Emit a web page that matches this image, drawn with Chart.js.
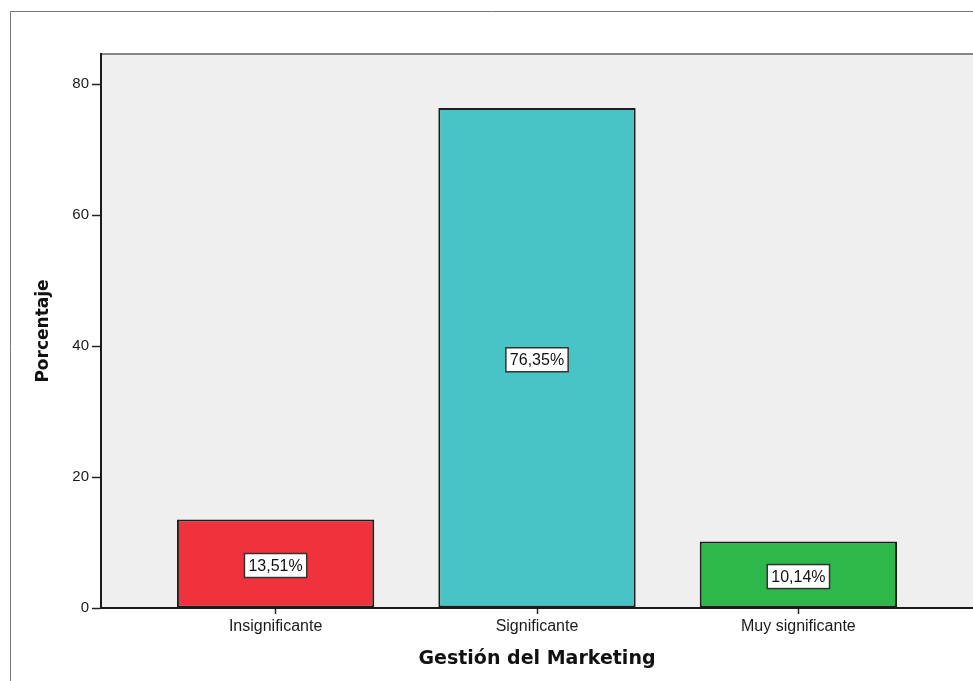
<!DOCTYPE html>
<html>
<head>
<meta charset="utf-8">
<script src="https://cdn.jsdelivr.net/npm/chart.js@4"></script>
<style>
  html, body { margin: 0; padding: 0; background: #fff; overflow: hidden; }
  #wrap { width: 973px; height: 681px; }
</style>
</head>
<body>
<div id="wrap"><canvas id="chart" width="973" height="681"></canvas></div>
<script>
// Data
const categories = ['Insignificante', 'Significante', 'Muy significante'];
const percentages = [13.51, 76.35, 10.14];
const barColors = ['#f0323c', '#48c3c6', '#2eb84b'];
const yTicks = [0, 20, 40, 60, 80];

// Grey plot background, top frame line and outer frame
const frame = {
    id: 'frame',
    beforeDraw(chart) {
        const { ctx, chartArea: a } = chart;
        ctx.save();
        ctx.fillStyle = '#efefef';
        ctx.fillRect(a.left, a.top, a.right - a.left, a.bottom - a.top);
        ctx.strokeStyle = '#858585';
        ctx.lineWidth = 2;
        ctx.beginPath();
        ctx.moveTo(a.left, a.top);
        ctx.lineTo(a.right, a.top);
        ctx.stroke();
        ctx.strokeStyle = '#777';
        ctx.lineWidth = 1;
        ctx.beginPath();
        ctx.moveTo(10.5, chart.height);
        ctx.lineTo(10.5, 11.5);
        ctx.lineTo(chart.width, 11.5);
        ctx.stroke();
        ctx.restore();
    }
};

// Percent labels in white boxes at the middle of each bar
const boxLabels = {
    id: 'boxLabels',
    afterDatasetsDraw(chart) {
        const { ctx } = chart;
        const meta = chart.getDatasetMeta(0);
        ctx.save();
        ctx.font = '16px "Liberation Sans", Arial, sans-serif';
        ctx.textAlign = 'center';
        ctx.textBaseline = 'middle';
        meta.data.forEach((bar, i) => {
            const text = percentages[i].toFixed(2).replace('.', ',') + '%';
            const cy = (bar.y + bar.base) / 2 + 2;
            const w = ctx.measureText(text).width + 8;
            const h = 24;
            ctx.fillStyle = '#fff';
            ctx.fillRect(bar.x - w / 2, cy - h / 2, w, h);
            ctx.strokeStyle = '#333';
            ctx.lineWidth = 1.5;
            ctx.strokeRect(bar.x - w / 2, cy - h / 2, w, h);
            ctx.fillStyle = '#111';
            ctx.fillText(text, bar.x, cy + 1);
        });
        ctx.restore();
    }
};

new Chart(document.getElementById('chart').getContext('2d'), {
    type: 'bar',
    data: {
        datasets: [{
            data: categories.map((c, i) => ({ x: i, y: percentages[i] })),
            backgroundColor: barColors,
            borderColor: '#1e1e1e',
            borderWidth: 2,
            borderSkipped: false,
            barPercentage: 0.755,
            categoryPercentage: 1
        }]
    },
    options: {
        responsive: false,
        animation: false,
        layout: { padding: { top: 54, left: 0, right: 0, bottom: 0 } },
        plugins: { legend: { display: false }, tooltip: { enabled: false } },
        scales: {
            x: {
                type: 'linear',
                offset: false,
                min: -0.668,
                max: 2.668,
                afterBuildTicks: (s) => { s.ticks = categories.map((c, i) => ({ value: i })); },
                afterFit: (s) => { s.height = 73; },
                ticks: {
                    callback: (v) => categories[v],
                    color: '#1a1a1a',
                    font: { family: '"Liberation Sans", Arial, sans-serif', size: 16 },
                    padding: 3,
                    maxRotation: 0,
                    autoSkip: false
                },
                grid: { offset: false, drawOnChartArea: false, tickLength: 6, tickColor: '#222', tickWidth: 1.5 },
                border: { color: '#1a1a1a', width: 2 },
                title: {
                    display: true,
                    text: 'Gestión del Marketing',
                    color: '#111',
                    font: { family: '"DejaVu Sans", sans-serif', size: 19, weight: 'bold' },
                    padding: { top: 0, bottom: 11 }
                }
            },
            y: {
                min: 0,
                max: 84.6,
                afterBuildTicks: (s) => { s.ticks = yTicks.map(v => ({ value: v })); },
                afterFit: (s) => { s.width = 101; },
                ticks: {
                    color: '#1a1a1a',
                    font: { family: '"Liberation Sans", Arial, sans-serif', size: 15 },
                    padding: 3
                },
                grid: { drawOnChartArea: false, tickLength: 9, tickColor: '#222', tickWidth: 1.5 },
                border: { color: '#1a1a1a', width: 2 },
                title: {
                    display: true,
                    text: 'Porcentaje',
                    color: '#111',
                    font: { family: '"DejaVu Sans", sans-serif', size: 17, weight: 'bold' },
                    padding: { top: 33, bottom: 0 }
                }
            }
        }
    },
    plugins: [frame, boxLabels]
});
</script>
</body>
</html>
